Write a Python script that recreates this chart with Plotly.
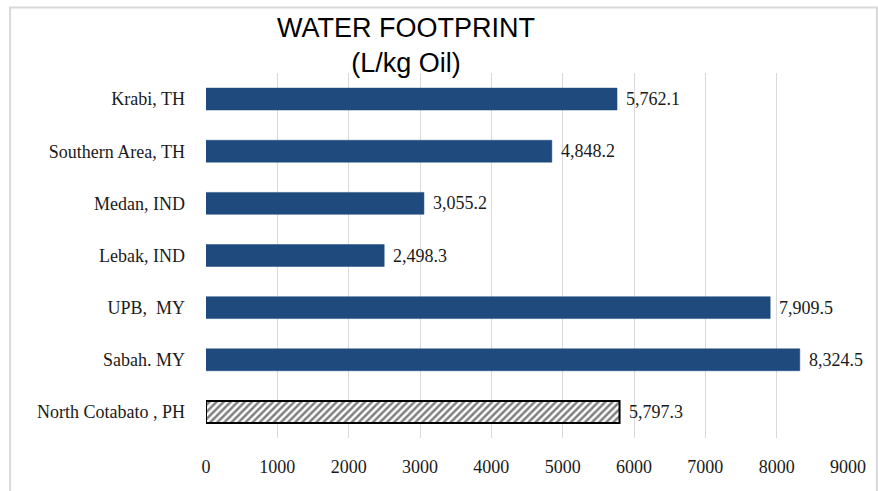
import plotly.graph_objects as go

# Data (top-to-bottom order as displayed)
regions = ["Krabi, TH", "Southern Area, TH", "Medan, IND", "Lebak, IND",
           "UPB,  MY", "Sabah. MY", "North Cotabato , PH"]
water_footprint = [5762.1, 4848.2, 3055.2, 2498.3, 7909.5, 8324.5, 5797.3]
x_ticks = [0, 1000, 2000, 3000, 4000, 5000, 6000, 7000, 8000, 9000]
highlight = "North Cotabato , PH"

BLUE = "#1F4A7E"
W, H = 878, 491
L, R, T, B = 206, 28, 73, 53
pw, ph = W - L - R, H - T - B


def px_x(x):
    return (x - L) / pw


def px_y(y):
    return (H - B - y) / ph


solid_y = [r for r in regions if r != highlight]
solid_x = [v for r, v in zip(regions, water_footprint) if r != highlight]
hatch_y = [r for r in regions if r == highlight]
hatch_x = [v for r, v in zip(regions, water_footprint) if r == highlight]

fig = go.Figure()
fig.add_trace(go.Bar(
    x=solid_x, y=solid_y, orientation="h",
    marker=dict(color=BLUE, line=dict(color=BLUE, width=0.5)),
    hoverinfo="skip",
))
fig.add_trace(go.Bar(
    x=hatch_x, y=hatch_y, orientation="h",
    marker=dict(
        color="white",
        line=dict(color="black", width=2),
        pattern=dict(shape="/", fgcolor="black", bgcolor="white",
                     size=5, solidity=0.5),
    ),
    hoverinfo="skip",
))

annotations = [dict(
    x=v, y=r, xref="x", yref="y",
    text=f"{v:,.1f}", showarrow=False,
    xanchor="left", yanchor="middle", xshift=7,
    font=dict(family="Liberation Serif", size=18, color="#1a1a1a"),
) for r, v in zip(regions, water_footprint)]

annotations.append(dict(
    text="WATER FOOTPRINT<br>(L/kg Oil)",
    xref="paper", yref="paper",
    x=px_x(407), y=px_y(46),
    xanchor="center", yanchor="middle",
    showarrow=False,
    font=dict(family="Liberation Sans", size=27, color="black"),
))

fig.update_layout(
    width=W, height=H,
    margin=dict(l=L, r=R, t=T, b=B),
    paper_bgcolor="white",
    plot_bgcolor="white",
    barmode="overlay",
    bargap=0.58,
    showlegend=False,
    font=dict(family="Liberation Serif", size=18, color="#1a1a1a"),
    xaxis=dict(
        range=[0, 9000],
        tickvals=x_ticks,
        ticktext=[str(t) for t in x_ticks],
        showgrid=True, gridcolor="#D9D9D9", gridwidth=1,
        zeroline=False, showline=False, ticks="",
        ticklabelstandoff=16,
        tickfont=dict(family="Liberation Serif", size=18, color="#1a1a1a"),
        fixedrange=True,
    ),
    yaxis=dict(
        categoryorder="array",
        categoryarray=regions[::-1],
        showgrid=False, zeroline=False, showline=False, ticks="",
        ticklabelstandoff=20,
        tickfont=dict(family="Liberation Serif", size=18, color="#1a1a1a"),
        fixedrange=True,
    ),
    annotations=annotations,
    shapes=[dict(
        type="rect", xref="paper", yref="paper",
        x0=px_x(9.5), x1=px_x(879), y0=px_y(495), y1=px_y(7.5),
        line=dict(color="#D9D9D9", width=2),
        fillcolor="rgba(0,0,0,0)", layer="below",
    )],
)

fig.write_html("out.html")
